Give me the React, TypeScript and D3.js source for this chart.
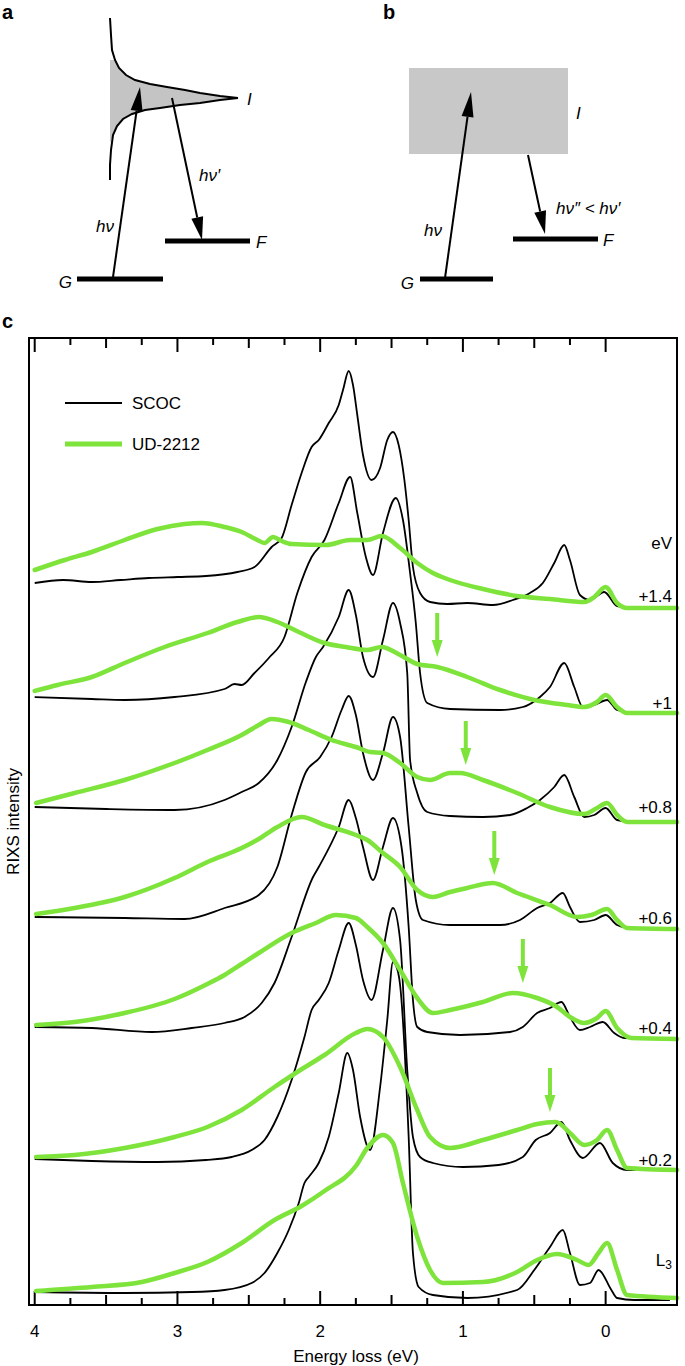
import React, { useEffect } from 'react';
import * as d3 from 'd3';

type Pt = [number, number];

// energy loss (eV), RIXS intensity (arb. units, spectra stacked with offsets)
const scoc14: Pt[] = [[4.0,7.29],[3.8,7.32],[3.6,7.30],[3.4,7.32],[3.2,7.34],[3.0,7.35],[2.8,7.36],[2.58,7.40],[2.46,7.45],[2.34,7.65],[2.27,7.74],[2.2,8.07],[2.13,8.39],[2.06,8.65],[2.01,8.72],[1.94,8.89],[1.87,9.07],[1.84,9.22],[1.80,9.41],[1.77,9.27],[1.74,8.97],[1.70,8.57],[1.64,8.32],[1.58,8.44],[1.53,8.72],[1.49,8.80],[1.45,8.67],[1.41,8.32],[1.38,7.92],[1.35,7.45],[1.30,7.19],[1.23,7.10],[1.11,7.08],[0.97,7.09],[0.79,7.07],[0.65,7.12],[0.53,7.19],[0.44,7.29],[0.36,7.49],[0.29,7.67],[0.25,7.52],[0.18,7.17],[0.11,7.12],[0.01,7.20],[-0.08,7.06],[-0.2,7.04],[-0.45,7.04]];
const ud14: Pt[] = [[4.0,7.42],[3.79,7.52],[3.6,7.60],[3.37,7.72],[3.14,7.83],[2.95,7.88],[2.83,7.89],[2.67,7.85],[2.55,7.80],[2.44,7.72],[2.39,7.69],[2.33,7.75],[2.27,7.71],[2.2,7.68],[1.96,7.67],[1.79,7.72],[1.67,7.72],[1.57,7.76],[1.44,7.64],[1.32,7.49],[1.21,7.39],[1.09,7.32],[0.86,7.23],[0.62,7.16],[0.39,7.13],[0.15,7.10],[0.08,7.15],[0.0,7.25],[-0.08,7.09],[-0.15,7.04],[-0.5,7.04]];

const scoc10: Pt[] = [[4.0,6.15],[3.6,6.13],[3.37,6.12],[3.02,6.15],[2.67,6.23],[2.6,6.28],[2.55,6.27],[2.46,6.39],[2.36,6.54],[2.25,6.75],[2.16,7.19],[2.06,7.55],[1.97,7.72],[1.87,8.09],[1.79,8.35],[1.74,7.99],[1.68,7.55],[1.63,7.37],[1.56,7.79],[1.47,8.14],[1.42,7.92],[1.37,7.39],[1.33,6.89],[1.30,6.39],[1.25,6.09],[1.09,6.03],[0.74,6.02],[0.58,6.05],[0.46,6.15],[0.39,6.25],[0.29,6.49],[0.22,6.25],[0.16,6.05],[0.08,6.07],[-0.01,6.12],[-0.08,6.02],[-0.2,5.99],[-0.45,5.99]];
const ud10: Pt[] = [[4.0,6.21],[3.84,6.27],[3.6,6.35],[3.37,6.49],[3.09,6.65],[2.79,6.79],[2.58,6.90],[2.43,6.95],[2.3,6.90],[2.15,6.80],[1.97,6.69],[1.82,6.65],[1.67,6.62],[1.57,6.65],[1.44,6.57],[1.32,6.48],[1.18,6.45],[0.97,6.35],[0.74,6.22],[0.5,6.12],[0.27,6.07],[0.15,6.05],[0.06,6.10],[0.0,6.17],[-0.08,6.05],[-0.15,5.99],[-0.5,5.99]];

const scoc08: Pt[] = [[4.0,5.05],[3.5,5.03],[3.02,5.02],[2.67,5.12],[2.55,5.20],[2.43,5.29],[2.3,5.52],[2.2,5.85],[2.1,6.30],[2.03,6.55],[1.98,6.65],[1.87,6.95],[1.80,7.22],[1.75,6.97],[1.70,6.55],[1.63,6.35],[1.56,6.72],[1.49,7.09],[1.44,6.89],[1.39,6.39],[1.37,5.52],[1.32,5.19],[1.25,5.00],[1.09,4.96],[0.86,4.95],[0.67,4.97],[0.55,5.04],[0.46,5.12],[0.36,5.25],[0.29,5.37],[0.22,5.15],[0.15,4.95],[0.08,4.97],[0.0,5.04],[-0.08,4.92],[-0.2,4.90],[-0.45,4.90]];
const ud08: Pt[] = [[3.99,5.09],[3.72,5.19],[3.37,5.32],[3.02,5.49],[2.79,5.62],[2.55,5.77],[2.43,5.87],[2.34,5.93],[2.22,5.90],[2.08,5.82],[1.92,5.72],[1.75,5.65],[1.65,5.60],[1.56,5.59],[1.44,5.49],[1.32,5.35],[1.23,5.32],[1.09,5.39],[1.02,5.39],[0.86,5.32],[0.62,5.19],[0.39,5.05],[0.15,4.98],[0.06,5.04],[-0.01,5.09],[-0.08,4.97],[-0.15,4.90],[-0.5,4.90]];

const scoc06: Pt[] = [[4.0,3.95],[3.37,3.94],[2.95,3.93],[2.67,4.04],[2.43,4.17],[2.3,4.45],[2.2,4.97],[2.1,5.40],[2.0,5.55],[1.92,5.75],[1.85,6.02],[1.80,6.16],[1.75,5.97],[1.70,5.59],[1.63,5.32],[1.56,5.59],[1.49,5.95],[1.44,5.75],[1.38,4.85],[1.33,4.12],[1.28,3.92],[1.09,3.87],[0.74,3.87],[0.6,3.92],[0.48,4.04],[0.39,4.09],[0.3,4.19],[0.25,4.05],[0.18,3.90],[0.08,3.92],[0.0,3.97],[-0.08,3.87],[-0.2,3.83],[-0.45,3.83]];
const ud06: Pt[] = [[3.99,3.98],[3.72,4.04],[3.37,4.15],[3.02,4.34],[2.79,4.50],[2.55,4.64],[2.43,4.73],[2.3,4.85],[2.13,4.95],[1.97,4.87],[1.75,4.77],[1.67,4.72],[1.56,4.59],[1.44,4.45],[1.32,4.22],[1.21,4.15],[1.09,4.20],[0.97,4.24],[0.79,4.29],[0.62,4.19],[0.39,4.07],[0.2,3.95],[0.1,3.97],[-0.01,4.03],[-0.08,3.92],[-0.15,3.84],[-0.5,3.83]];

const scoc04: Pt[] = [[4.0,2.85],[3.6,2.84],[3.18,2.80],[2.9,2.84],[2.67,2.89],[2.53,2.95],[2.41,3.09],[2.32,3.29],[2.2,3.75],[2.05,4.35],[2.01,4.45],[1.87,4.85],[1.80,5.12],[1.75,4.94],[1.70,4.65],[1.63,4.32],[1.56,4.65],[1.49,4.94],[1.43,4.65],[1.38,3.85],[1.35,3.12],[1.32,2.85],[1.25,2.80],[1.02,2.77],[0.67,2.80],[0.58,2.85],[0.48,2.99],[0.39,3.04],[0.31,3.10],[0.25,2.95],[0.18,2.82],[0.11,2.85],[0.02,2.90],[-0.06,2.79],[-0.13,2.74],[-0.45,2.73]];
const ud04: Pt[] = [[3.99,2.87],[3.72,2.90],[3.37,2.99],[3.02,3.13],[2.79,3.28],[2.67,3.37],[2.55,3.48],[2.43,3.59],[2.2,3.79],[2.03,3.89],[1.89,3.97],[1.75,3.94],[1.67,3.85],[1.56,3.69],[1.44,3.42],[1.32,3.14],[1.21,2.99],[1.09,3.02],[0.86,3.10],[0.65,3.19],[0.48,3.14],[0.34,3.05],[0.25,2.95],[0.15,2.89],[0.06,2.94],[0.0,3.01],[-0.08,2.84],[-0.18,2.74],[-0.5,2.73]];

const scoc02: Pt[] = [[4.0,1.53],[3.6,1.51],[3.14,1.50],[2.8,1.52],[2.62,1.55],[2.48,1.62],[2.39,1.72],[2.3,1.95],[2.2,2.32],[2.11,2.75],[2.06,3.02],[2.01,3.12],[1.94,3.29],[1.87,3.62],[1.80,3.89],[1.75,3.67],[1.70,3.32],[1.64,3.12],[1.56,3.62],[1.49,4.04],[1.44,3.72],[1.39,2.42],[1.35,1.75],[1.30,1.55],[1.21,1.49],[1.0,1.45],[0.75,1.47],[0.58,1.55],[0.49,1.72],[0.39,1.79],[0.31,1.90],[0.25,1.72],[0.16,1.54],[0.04,1.69],[-0.05,1.49],[-0.15,1.42],[-0.45,1.42]];
const ud02: Pt[] = [[3.99,1.55],[3.72,1.57],[3.37,1.64],[3.02,1.75],[2.79,1.85],[2.55,2.02],[2.32,2.25],[2.16,2.40],[1.97,2.57],[1.75,2.79],[1.67,2.83],[1.56,2.75],[1.44,2.45],[1.32,2.02],[1.23,1.75],[1.09,1.64],[0.86,1.72],[0.62,1.82],[0.48,1.88],[0.35,1.90],[0.25,1.79],[0.15,1.67],[0.06,1.72],[-0.01,1.82],[-0.08,1.62],[-0.15,1.44],[-0.5,1.42]];

const scocL3: Pt[] = [[4.0,0.20],[3.37,0.19],[2.9,0.20],[2.67,0.22],[2.48,0.29],[2.39,0.39],[2.3,0.59],[2.22,0.82],[2.15,1.09],[2.11,1.29],[2.08,1.35],[2.01,1.49],[1.94,1.75],[1.87,2.19],[1.81,2.59],[1.77,2.42],[1.72,1.95],[1.65,1.62],[1.58,2.25],[1.53,2.92],[1.49,3.50],[1.47,3.47],[1.44,3.27],[1.38,1.75],[1.35,0.59],[1.31,0.25],[1.21,0.17],[0.97,0.14],[0.62,0.22],[0.5,0.42],[0.39,0.65],[0.3,0.82],[0.25,0.59],[0.18,0.27],[0.11,0.29],[0.05,0.42],[-0.04,0.22],[-0.08,0.14],[-0.2,0.12],[-0.45,0.12]];
const udL3: Pt[] = [[3.99,0.21],[3.6,0.25],[3.25,0.30],[3.02,0.39],[2.79,0.50],[2.55,0.69],[2.32,0.92],[2.13,1.06],[1.97,1.21],[1.75,1.46],[1.67,1.64],[1.56,1.77],[1.49,1.69],[1.42,1.29],[1.32,0.75],[1.23,0.42],[1.14,0.29],[0.86,0.30],[0.62,0.40],[0.48,0.52],[0.34,0.58],[0.2,0.52],[0.12,0.47],[0.05,0.59],[-0.01,0.69],[-0.08,0.42],[-0.15,0.17],[-0.5,0.14]];

const scocSeries = [scoc14, scoc10, scoc08, scoc06, scoc04, scoc02, scocL3];
const udSeries = [ud14, ud10, ud08, ud06, ud04, ud02, udL3];

// right-hand labels: text and intensity position
const offsetLabels = ['eV', '+1.4', '+1', '+0.8', '+0.6', '+0.4', '+0.2', 'L3'];
const offsetLabelY = [7.69, 7.16, 6.09, 5.05, 3.94, 2.84, 1.52, 0.52];

// green arrows: energy and tip intensity
const arrowEnergy = [1.18, 0.98, 0.78, 0.58, 0.39];
const arrowTip = [6.55, 5.47, 4.37, 3.29, 2.0];
const arrowLen = 0.44;

const axisLabels = [4, 3, 2, 1, 0];

const GREEN = '#7ee43b';
const FONT = '"Liberation Sans", Arial, Helvetica, sans-serif';

function Arrow(props: { x1: number; y1: number; x2: number; y2: number; color: string; w: number; hl: number; hw: number }) {
  const { x1, y1, x2, y2, color, w, hl, hw } = props;
  const a = Math.atan2(y2 - y1, x2 - x1);
  const bx = x2 - hl * Math.cos(a);
  const by = y2 - hl * Math.sin(a);
  const px = -Math.sin(a) * hw / 2;
  const py = Math.cos(a) * hw / 2;
  return (
    <g>
      <line x1={x1} y1={y1} x2={bx} y2={by} stroke={color} strokeWidth={w} />
      <polygon points={`${x2},${y2} ${bx + px},${by + py} ${bx - px},${by - py}`} fill={color} />
    </g>
  );
}

// schematic of panel a: top and bottom branch of intermediate state density
const topBranch: Pt[] = [[110,18],[111,35],[112,50],[115,60],[119,68],[126,75],[135,80],[150,84],[167,87],[185,90],[200,93],[220,96],[238,98]];
const bottomBranch: Pt[] = [[238,98],[220,100],[200,103],[180,105],[160,108],[145,110],[132,114],[123,119],[117,126],[113,135],[111,150],[110,165],[110,180]];

export default function App() {
  useEffect(() => {
    document.body.style.margin = '0';
  }, []);

  const W = 685, H = 1366;
  const plot = { left: 29, right: 677, top: 338, bottom: 1305 };
  const x = d3.scaleLinear().domain([4.04, -0.5]).range([plot.left, plot.right]);
  const y = d3.scaleLinear().domain([0.07, 9.74]).range([plot.bottom, plot.top]);
  const line = d3.line<Pt>().x(d => x(d[0])).y(d => y(d[1])).curve(d3.curveMonotoneX);

  const ticks = d3.range(0, 17).map(i => 4 - i * 0.25).filter(t => t > -0.5);
  const tickLen = (t: number) => (Math.abs(t - Math.round(t)) < 1e-6 ? 14 : Math.abs(t * 2 - Math.round(t * 2)) < 1e-6 ? 10 : 7);

  const raw = d3.line<Pt>().x(d => d[0]).y(d => d[1]);
  const fillPts: Pt[] = [[110, 60], ...topBranch.filter(p => p[1] >= 60), ...bottomBranch.slice(1).filter(p => p[1] <= 143), [110, 143]];

  return (
    <svg width={W} height={H} style={{ display: 'block', background: '#fff' }} fontFamily={FONT}>
      {/* panel a */}
      <text x={2} y={19} fontSize={20} fontWeight="bold">a</text>
      <path d={raw(fillPts) + 'Z'} fill="#c4c4c4" />
      <path d={raw(topBranch) || ''} fill="none" stroke="#000" strokeWidth={2} />
      <path d={raw(bottomBranch) || ''} fill="none" stroke="#000" strokeWidth={2} />
      <line x1={77} y1={279} x2={163} y2={279} stroke="#000" strokeWidth={5} />
      <line x1={165} y1={241} x2={250} y2={241} stroke="#000" strokeWidth={5} />
      <Arrow x1={113} y1={277} x2={140} y2={87} color="#000" w={2} hl={24} hw={12} />
      <Arrow x1={172} y1={98} x2={202} y2={240} color="#000" w={2} hl={23} hw={12} />
      <g fontSize={17} fontStyle="italic">
        <text x={247} y={105}>I</text>
        <text x={96} y={232}>hν</text>
        <text x={199} y={181}>hν′</text>
        <text x={72} y={288} textAnchor="end">G</text>
        <text x={256} y={248}>F</text>
      </g>

      {/* panel b */}
      <text x={383} y={19} fontSize={20} fontWeight="bold">b</text>
      <rect x={409} y={68} width={159} height={86} fill="#c8c8c8" />
      <line x1={420} y1={279} x2={493} y2={279} stroke="#000" strokeWidth={5} />
      <line x1={513} y1={239} x2={598} y2={239} stroke="#000" strokeWidth={5} />
      <Arrow x1={445} y1={278} x2={471} y2={92} color="#000" w={2} hl={25} hw={12} />
      <Arrow x1={528} y1={155} x2={545} y2={234} color="#000" w={2} hl={23} hw={12} />
      <g fontSize={17} fontStyle="italic">
        <text x={576} y={119}>I</text>
        <text x={424} y={236}>hν</text>
        <text x={556} y={214}>hν″ &lt; hν′</text>
        <text x={414} y={289} textAnchor="end">G</text>
        <text x={603} y={246}>F</text>
      </g>

      {/* panel c */}
      <text x={2} y={328} fontSize={20} fontWeight="bold">c</text>

      {ticks.map(t => (
        <g key={'t' + t}>
          <line x1={x(t)} x2={x(t)} y1={plot.top} y2={plot.top + tickLen(t)} stroke="#000" strokeWidth={2} />
          <line x1={x(t)} x2={x(t)} y1={plot.bottom} y2={plot.bottom - tickLen(t)} stroke="#000" strokeWidth={2} />
        </g>
      ))}

      {scocSeries.map((s, i) => (
        <path key={'k' + i} d={line(s) || ''} fill="none" stroke="#000" strokeWidth={1.8} strokeLinejoin="round" />
      ))}
      {udSeries.map((s, i) => (
        <path key={'g' + i} d={line(s) || ''} fill="none" stroke={GREEN} strokeWidth={4.5} strokeLinejoin="round" strokeLinecap="round" />
      ))}

      {arrowEnergy.map((e, i) => (
        <Arrow key={'a' + i} x1={x(e)} y1={y(arrowTip[i] + arrowLen)} x2={x(e)} y2={y(arrowTip[i])} color={GREEN} w={4} hl={17} hw={11} />
      ))}

      <rect x={plot.left} y={plot.top} width={plot.right - plot.left} height={plot.bottom - plot.top} fill="none" stroke="#000" strokeWidth={2} />

      <g fontSize={17}>
        {offsetLabels.map((l, i) => (
          <text key={'l' + i} x={plot.right - 5} y={y(offsetLabelY[i])} textAnchor="end" dominantBaseline="central">
            {l === 'L3' ? (<><tspan>L</tspan><tspan fontSize={12} dy={5}>3</tspan></>) : l}
          </text>
        ))}
      </g>

      {/* legend */}
      <line x1={65} x2={122} y1={403} y2={403} stroke="#000" strokeWidth={1.8} />
      <text x={132} y={403} fontSize={17} dominantBaseline="central">SCOC</text>
      <line x1={65} x2={122} y1={444} y2={444} stroke={GREEN} strokeWidth={5} />
      <text x={132} y={444} fontSize={17} dominantBaseline="central">UD-2212</text>

      {axisLabels.map(t => (
        <text key={'x' + t} x={x(t)} y={plot.bottom + 26} fontSize={17} textAnchor="middle" dominantBaseline="central">{t}</text>
      ))}
      <text x={356} y={plot.bottom + 51} fontSize={17} textAnchor="middle" dominantBaseline="central">Energy loss (eV)</text>
      <text transform={`translate(13, ${(plot.top + plot.bottom) / 2}) rotate(-90)`} fontSize={17} textAnchor="middle" dominantBaseline="central">RIXS intensity</text>
    </svg>
  );
}
